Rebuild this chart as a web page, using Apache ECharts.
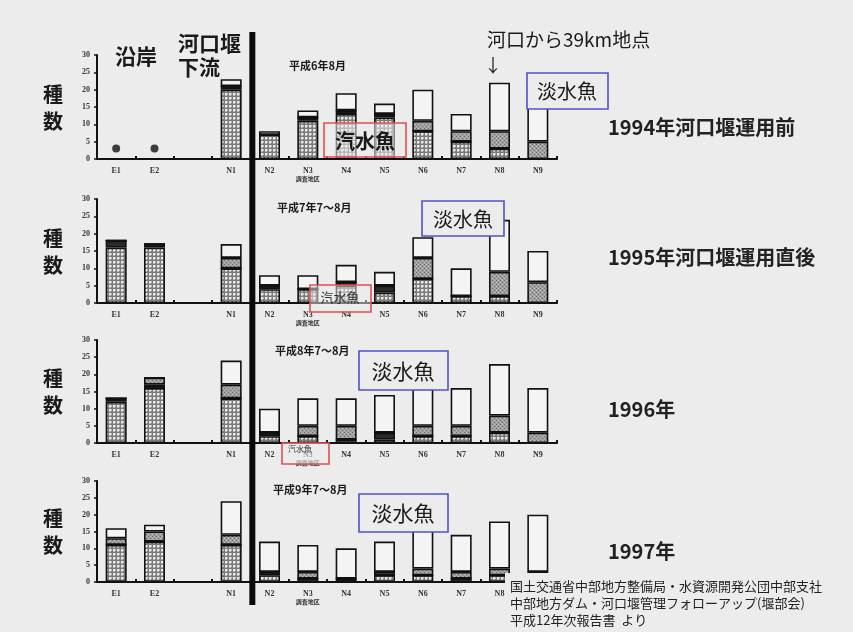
<!DOCTYPE html>
<html>
<head>
<meta charset="utf-8">
<script src="https://cdn.jsdelivr.net/npm/echarts@6.0.0/dist/echarts.min.js"></script>
<style>
  html, body { margin: 0; padding: 0; background: #ececec; }
  #chart { width: 853px; height: 632px; }
</style>
</head>
<body>
<div id="chart"></div>
<script>
// Survey sites along the river: coast (E), below the barrage (N1), upstream (N2-N9)
const categories = ['E1', 'E2', '', 'N1', 'N2', 'N3', 'N4', 'N5', 'N6', 'N7', 'N8', 'N9'];

// Species counts per site, stacked: meshed / dark / grey / open segments
const mesh1994  = [null, null, null, 20, 7, 11, 13, 12, 8, 5, 3, 0];
const dark1994  = [null, null, null, 1, 0, 1, 1, 1, 0, 0, 0, 0];
const grey1994  = [null, null, null, 0, 0, 0, 0, 0, 3, 3, 5, 5];
const open1994  = [null, null, null, 2, 1, 2, 5, 3, 9, 5, 14, 10];
const coast1994 = [3, 3, null, null, null, null, null, null, null, null, null, null];

const mesh1995 = [16, 16, null, 10, 4, 4, 5, 3, 7, 2, 2, 0];
const dark1995 = [2, 1, null, 0, 1, 0, 1, 2, 0, 0, 0, 0];
const grey1995 = [0, 0, null, 3, 0, 0, 0, 0, 6, 0, 7, 6];
const open1995 = [0, 0, null, 4, 3, 4, 5, 4, 6, 8, 15, 9];

const mesh1996 = [12, 16, null, 13, 2, 2, 1, 1, 2, 2, 3, 0];
const dark1996 = [1, 1, null, 0, 1, 0, 0, 2, 0, 0, 0, 0];
const grey1996 = [0, 2, null, 4, 0, 3, 4, 0, 3, 3, 5, 3];
const open1996 = [0, 0, null, 7, 7, 8, 8, 11, 11, 11, 15, 13];

const mesh1997 = [11, 12, null, 11, 2, 1, 0, 2, 2, 1, 2, 1];
const dark1997 = [0, 0, null, 0, 1, 0, 1, 0, 0, 0, 0, 0];
const grey1997 = [2, 3, null, 3, 0, 2, 0, 1, 2, 2, 2, 2];
const open1997 = [3, 2, null, 10, 9, 8, 9, 9, 12, 11, 14, 17];

const panelTitles = ['平成6年8月', '平成7年7～8月', '平成8年7～8月', '平成9年7～8月'];
const yearLabels = ['1994年河口堰運用前', '1995年河口堰運用直後', '1996年', '1997年'];

const panels = [
  { mesh: mesh1994, dark: dark1994, grey: grey1994, open: open1994 },
  { mesh: mesh1995, dark: dark1995, grey: grey1995, open: open1995 },
  { mesh: mesh1996, dark: dark1996, grey: grey1996, open: open1996 },
  { mesh: mesh1997, dark: dark1997, grey: grey1997, open: open1997 }
];

// Layout of the four stacked panels
const grids = [
  { left: 97, width: 460, top: 55,  height: 104 },
  { left: 97, width: 460, top: 199, height: 104 },
  { left: 97, width: 460, top: 340, height: 103 },
  { left: 97, width: 460, top: 481, height: 101 }
];

const BG = '#ececec';
const CJK = '"Noto Sans CJK JP", "Noto Sans", sans-serif';

// dotted mesh: light dots inside a grey net
function meshPattern() {
  const c = document.createElement('canvas');
  c.width = 4; c.height = 4;
  const g = c.getContext('2d');
  g.fillStyle = '#7a7a7a'; g.fillRect(0, 0, 4, 4);
  g.fillStyle = '#e8e8e8'; g.fillRect(1, 1, 2, 2);
  g.fillStyle = '#b8b8b8'; g.fillRect(3, 1, 1, 2); g.fillRect(1, 3, 2, 1);
  return c;
}
// darker stipple for the middle band
function stipplePattern() {
  const c = document.createElement('canvas');
  c.width = 4; c.height = 4;
  const g = c.getContext('2d');
  g.fillStyle = '#a0a0a0'; g.fillRect(0, 0, 4, 4);
  g.fillStyle = '#6a6a6a'; g.fillRect(0, 0, 1, 1); g.fillRect(2, 2, 1, 1);
  g.fillStyle = '#c0c0c0'; g.fillRect(2, 0, 1, 1); g.fillRect(0, 2, 1, 1);
  return c;
}
const meshFill = { image: meshPattern(), repeat: 'repeat' };
const greyFill = { image: stipplePattern(), repeat: 'repeat' };

const xAxes = [], yAxes = [], series = [];
grids.forEach((g, i) => {
  xAxes.push({
    type: 'category', gridIndex: i, data: categories,
    axisLine: { lineStyle: { color: '#111', width: 2 } },
    axisTick: { show: true, inside: true, length: 3, lineStyle: { color: '#111', width: 2 } },
    axisLabel: {
      interval: 0, margin: 8, fontSize: 8, fontWeight: 'bold', color: '#333',
      fontFamily: '"Liberation Serif", serif',
      formatter: v => v === 'N3' ? 'N3\n{s|調査地区}' : v,
      rich: { s: { fontSize: 6, fontWeight: 'bold', fontFamily: CJK, color: '#333', lineHeight: 8 } }
    }
  });
  yAxes.push({
    type: 'value', gridIndex: i, min: 0, max: 30, interval: 5,
    axisLine: { show: true, lineStyle: { color: '#111', width: 2 } },
    axisTick: { show: true, length: 3, lineStyle: { color: '#111', width: 1.5 } },
    splitLine: { show: false },
    axisLabel: { margin: 7, fontSize: 8, fontWeight: 'bold', color: '#333', fontFamily: '"Liberation Serif", serif' }
  });
  const p = panels[i];
  const base = {
    type: 'bar', xAxisIndex: i, yAxisIndex: i, stack: 'site' + i, barWidth: 21,
    silent: true, animation: false
  };
  const border = { borderColor: '#111', borderWidth: 1.6 };
  series.push(Object.assign({}, base, { name: '汽水魚', data: p.mesh, itemStyle: Object.assign({ color: meshFill }, border) }));
  series.push(Object.assign({}, base, { name: '暗色', data: p.dark, itemStyle: Object.assign({ color: '#2a2a2a' }, border) }));
  series.push(Object.assign({}, base, { name: '灰色', data: p.grey, itemStyle: Object.assign({ color: greyFill }, border) }));
  series.push(Object.assign({}, base, { name: '淡水魚', data: p.open, itemStyle: Object.assign({ color: '#f4f4f4' }, border) }));
});
series.push({
  type: 'scatter', xAxisIndex: 0, yAxisIndex: 0, data: coast1994,
  symbol: 'circle', symbolSize: 8, itemStyle: { color: '#111' }, silent: true, animation: false
});

function txt(text, x, y, size, opts) {
  opts = opts || {};
  return {
    type: 'text', x: x, y: y, z: 120,
    style: {
      text: text, fill: opts.color || '#1a1a1a',
      font: (opts.weight || 'normal') + ' ' + size + 'px ' + (opts.family || CJK),
      textAlign: opts.align || 'left', textVerticalAlign: 'middle'
    }
  };
}
function box(x, y, w, h, stroke, fill) {
  return {
    type: 'rect', z: 110,
    shape: { x: x, y: y, width: w, height: h },
    style: { fill: fill, stroke: stroke, lineWidth: 1.6 }
  };
}

const chart = echarts.init(document.getElementById('chart'), null, { renderer: 'canvas' });
chart.setOption({
  backgroundColor: BG,
  animation: false,
  grid: grids,
  xAxis: xAxes,
  yAxis: yAxes,
  series: series
});

// Separator between the downstream and upstream sites
const sepX = (chart.convertToPixel({ xAxisIndex: 0 }, 3) + chart.convertToPixel({ xAxisIndex: 0 }, 4)) / 2 + 2;

const graphics = [
  { type: 'rect', z: 105, shape: { x: sepX - 3, y: 32, width: 6, height: 573 }, style: { fill: '#0a0a0a' } },

  txt('沿岸', 115, 56, 21, { weight: 'bold' }),
  txt('河口堰', 178, 43, 21, { weight: 'bold' }),
  txt('下流', 178, 67, 21, { weight: 'bold' }),
  txt('河口から39km地点', 487, 40, 19),
  txt('↓', 493, 65, 18, { align: 'center' }),

  // annotation boxes
  box(324, 123, 82, 34, '#e05050', 'rgba(236,236,236,0.55)'),
  txt('汽水魚', 365, 141, 20, { weight: 'bold', align: 'center' }),
  box(527, 73, 81, 36, '#5050cc', BG),
  txt('淡水魚', 567, 91, 20, { align: 'center' }),

  box(422, 201, 82, 35, '#5050cc', BG),
  txt('淡水魚', 463, 219, 20, { align: 'center' }),
  box(310, 285, 61, 27, '#e05050', 'rgba(236,236,236,0.5)'),
  txt('汽水魚', 340, 297, 13, { align: 'center', color: '#333' }),

  box(359, 351, 89, 39, '#5050cc', BG),
  txt('淡水魚', 403, 371, 21, { align: 'center' }),
  box(282, 443, 47, 21, '#e05050', 'rgba(236,236,236,0.6)'),
  txt('汽水魚', 300, 449, 8, { align: 'center', color: '#333' }),

  box(359, 494, 89, 38, '#5050cc', BG),
  txt('淡水魚', 403, 513, 21, { align: 'center' }),

  // footer with source note
  { type: 'rect', z: 108, shape: { x: 505, y: 573, width: 348, height: 59 }, style: { fill: BG } },
  txt('国土交通省中部地方整備局・水資源開発公団中部支社', 510, 586, 13, { color: '#222' }),
  txt('中部地方ダム・河口堰管理フォローアップ(堰部会)', 510, 603, 13, { color: '#222' }),
  txt('平成12年次報告書  より', 510, 620, 13, { color: '#222' })
];

grids.forEach((g, i) => {
  const mid = g.top + g.height / 2;
  graphics.push(txt('種', 53, mid - 13, 20, { weight: 'bold', align: 'center' }));
  graphics.push(txt('数', 53, mid + 14, 20, { weight: 'bold', align: 'center' }));
});
const titleY = [66, 208, 351, 490];
const titleX = [289, 277, 275, 273];
panelTitles.forEach((t, i) => graphics.push(txt(t, titleX[i], titleY[i], 11, { weight: 'bold' })));
const yearY = [127, 257, 409, 551];
yearLabels.forEach((t, i) => graphics.push(txt(t, 608, yearY[i], 20, { weight: 'bold', color: '#222' })));

chart.setOption({ graphic: { elements: graphics } });
</script>
</body>
</html>
